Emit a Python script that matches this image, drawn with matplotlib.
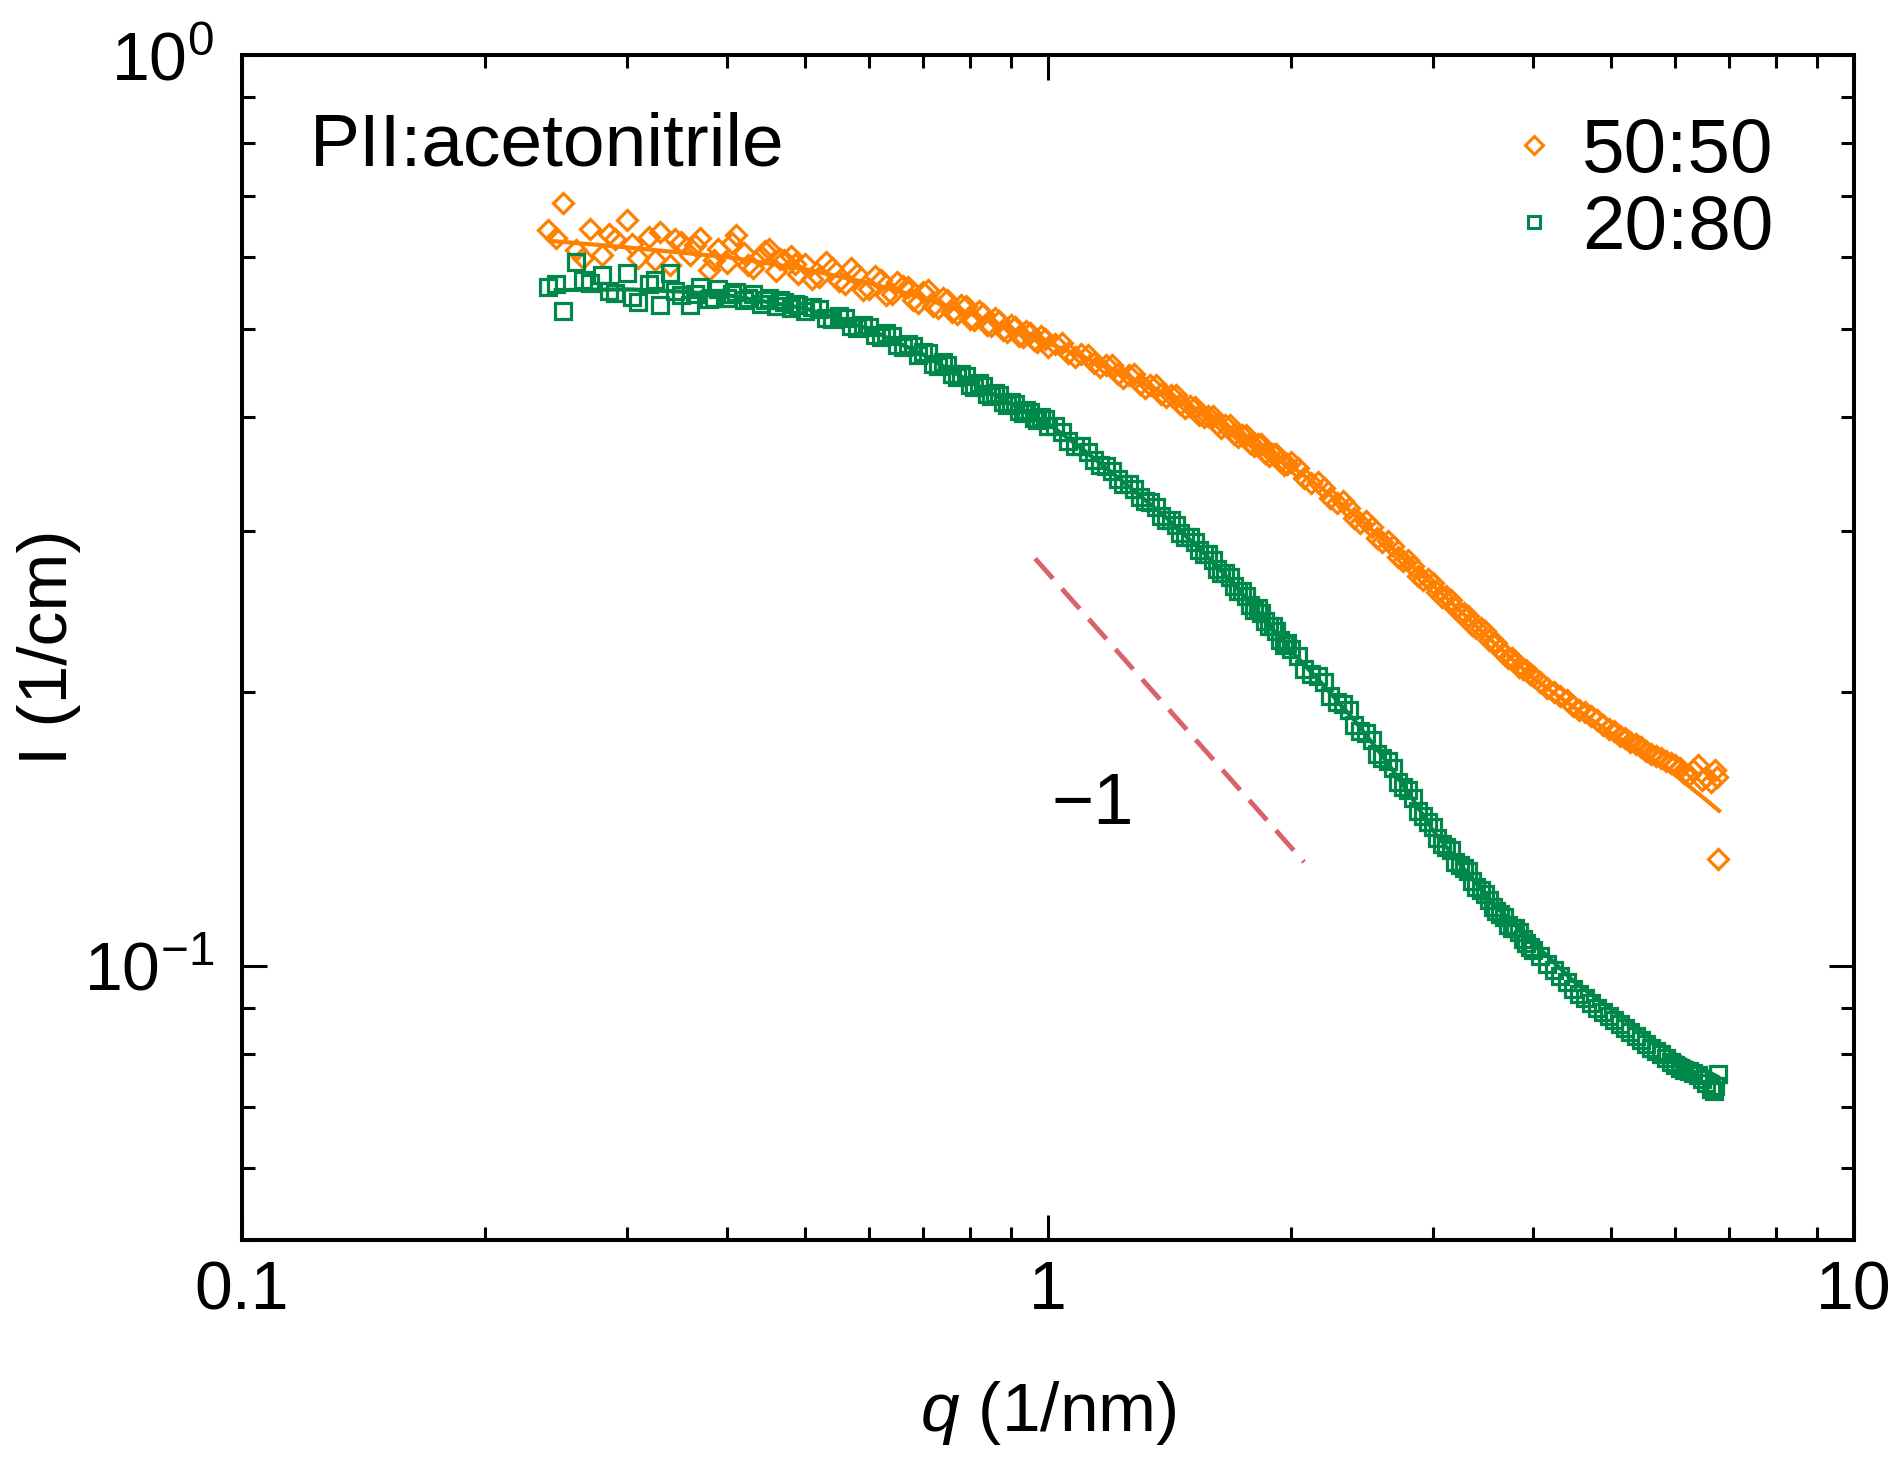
import matplotlib
matplotlib.use("Agg")
import matplotlib.pyplot as plt
from matplotlib.ticker import LogLocator, NullFormatter, LogFormatterSciNotation
from matplotlib.lines import Line2D

plt.rcParams['font.family'] = ['Liberation Sans', 'DejaVu Sans']
plt.rcParams['mathtext.fontset'] = 'custom'
plt.rcParams['mathtext.rm'] = 'Liberation Sans'
plt.rcParams['mathtext.it'] = 'Liberation Sans:italic'
plt.rcParams['axes.unicode_minus'] = False

# --- data ---
q_5050 = [0.24, 0.25, 0.26, 0.27, 0.28, 0.29, 0.30, 0.31, 0.32, 0.33, 0.34, 0.35, 0.36,
          0.37, 0.38, 0.39, 0.40, 0.41, 0.42, 0.43, 0.44, 0.45, 0.46, 0.47, 0.48, 0.49,
          0.50, 0.52, 0.54, 0.56, 0.58, 0.60, 0.62, 0.64, 0.66, 0.68, 0.70, 0.72, 0.74,
          0.76, 0.78, 0.80, 0.82, 0.84, 0.86, 0.88, 0.90, 0.92, 0.94, 0.96, 0.98,
          1.00, 1.04, 1.08, 1.12, 1.16, 1.20, 1.24, 1.28, 1.32, 1.36, 1.40, 1.44, 1.48,
          1.52, 1.56, 1.60, 1.64, 1.68, 1.72, 1.76, 1.80, 1.84, 1.88, 1.92, 1.96,
          2.00, 2.08, 2.16, 2.24, 2.32, 2.40, 2.48, 2.56, 2.64, 2.72, 2.80, 2.88, 2.96,
          3.04, 3.12, 3.20, 3.28, 3.36, 3.44, 3.52, 3.60, 3.68, 3.76, 3.84, 3.92,
          4.00, 4.16, 4.32, 4.48, 4.64, 4.80, 4.96, 5.12, 5.28, 5.44, 5.60, 5.76, 5.92,
          6.08, 6.24, 6.40, 6.56, 6.64, 6.72, 6.76, 6.78]
I_5050 = [0.642, 0.688, 0.611, 0.645, 0.603, 0.628, 0.659, 0.598, 0.631, 0.640, 0.588, 0.624, 0.603,
          0.630, 0.581, 0.612, 0.591, 0.635, 0.607, 0.584, 0.601, 0.612, 0.579, 0.596, 0.601, 0.575,
          0.590, 0.571, 0.584, 0.560, 0.575, 0.553, 0.566, 0.547, 0.558, 0.538, 0.549, 0.530, 0.541,
          0.522, 0.531, 0.513, 0.523, 0.506, 0.514, 0.499, 0.506, 0.491, 0.498, 0.486, 0.491,
          0.478, 0.483, 0.466, 0.469, 0.455, 0.457, 0.442, 0.446, 0.431, 0.434, 0.421, 0.423, 0.410,
          0.411, 0.400, 0.402, 0.390, 0.392, 0.381, 0.383, 0.372, 0.374, 0.363, 0.365, 0.355,
          0.357, 0.343, 0.340, 0.326, 0.324, 0.310, 0.308, 0.295, 0.293, 0.281, 0.279, 0.268, 0.266,
          0.257, 0.255, 0.247, 0.244, 0.237, 0.235, 0.228, 0.226, 0.220, 0.218, 0.213, 0.211,
          0.208, 0.202, 0.198, 0.193, 0.190, 0.186, 0.182, 0.179, 0.176, 0.174, 0.171, 0.169, 0.167,
          0.165, 0.162, 0.166, 0.161, 0.159, 0.164, 0.161, 0.131]
# in-between points of the same 50:50 run
q_5050_mid = [0.245, 0.265, 0.285, 0.305, 0.325, 0.345, 0.365, 0.385, 0.405, 0.425, 0.445, 0.465, 0.485,
              0.51, 0.53, 0.55, 0.57, 0.59, 0.61, 0.63, 0.65, 0.67, 0.69, 0.71, 0.73, 0.75,
              0.77, 0.79, 0.81, 0.83, 0.85, 0.87, 0.89, 0.91, 0.93, 0.95, 0.97, 0.99,
              1.02, 1.06, 1.10, 1.14, 1.18, 1.22, 1.26, 1.30, 1.34, 1.38, 1.42, 1.46, 1.50,
              1.54, 1.58, 1.62, 1.66, 1.70, 1.74, 1.78, 1.82, 1.86, 1.90, 1.94, 1.98,
              2.04, 2.12, 2.20, 2.28, 2.36, 2.44, 2.52, 2.60, 2.68, 2.76, 2.84, 2.92, 3.00,
              3.08, 3.16, 3.24, 3.32, 3.40, 3.48, 3.56, 3.64, 3.72, 3.80, 3.88, 3.96,
              4.08, 4.24, 4.40, 4.56, 4.72, 4.88, 5.04, 5.20, 5.36, 5.52, 5.68, 5.84, 6.00,
              6.16, 6.32, 6.48]
I_5050_mid = [0.629, 0.598, 0.636, 0.620, 0.596, 0.628, 0.618, 0.596, 0.622, 0.588, 0.609, 0.597, 0.590,
              0.567, 0.592, 0.565, 0.583, 0.552, 0.572, 0.545, 0.563, 0.556, 0.534, 0.552, 0.527, 0.538,
              0.519, 0.530, 0.512, 0.520, 0.504, 0.511, 0.497, 0.503, 0.490, 0.495, 0.484, 0.488,
              0.482, 0.471, 0.470, 0.459, 0.457, 0.446, 0.445, 0.435, 0.434, 0.424, 0.423, 0.414, 0.412,
              0.403, 0.402, 0.393, 0.392, 0.384, 0.383, 0.375, 0.374, 0.366, 0.365, 0.358, 0.356,
              0.352, 0.339, 0.335, 0.322, 0.318, 0.306, 0.303, 0.292, 0.289, 0.278, 0.275, 0.265, 0.263,
              0.254, 0.252, 0.244, 0.242, 0.235, 0.233, 0.226, 0.223, 0.218, 0.216, 0.212, 0.209,
              0.205, 0.200, 0.196, 0.191, 0.188, 0.184, 0.181, 0.178, 0.175, 0.172, 0.170, 0.168, 0.166,
              0.163, 0.164, 0.160]

q_2080 = [0.24, 0.25, 0.26, 0.27, 0.28, 0.29, 0.30, 0.31, 0.32, 0.33, 0.34, 0.35, 0.36,
          0.37, 0.38, 0.39, 0.40, 0.41, 0.42, 0.43, 0.44, 0.45, 0.46, 0.47, 0.48, 0.49,
          0.50, 0.52, 0.54, 0.56, 0.58, 0.60, 0.62, 0.64, 0.66, 0.68, 0.70, 0.72, 0.74,
          0.76, 0.78, 0.80, 0.82, 0.84, 0.86, 0.88, 0.90, 0.92, 0.94, 0.96, 0.98,
          1.00, 1.04, 1.08, 1.12, 1.16, 1.20, 1.24, 1.28, 1.32, 1.36, 1.40, 1.44, 1.48,
          1.52, 1.56, 1.60, 1.64, 1.68, 1.72, 1.76, 1.80, 1.84, 1.88, 1.92, 1.96,
          2.00, 2.08, 2.16, 2.24, 2.32, 2.40, 2.48, 2.56, 2.64, 2.72, 2.80, 2.88, 2.96,
          3.04, 3.12, 3.20, 3.28, 3.36, 3.44, 3.52, 3.60, 3.68, 3.76, 3.84, 3.92,
          4.00, 4.16, 4.32, 4.48, 4.64, 4.80, 4.96, 5.12, 5.28, 5.44, 5.60, 5.76, 5.92,
          6.08, 6.24, 6.40, 6.56, 6.64, 6.70, 6.72, 6.78]
I_2080 = [0.556, 0.523, 0.593, 0.562, 0.574, 0.548, 0.576, 0.536, 0.561, 0.532, 0.576, 0.545, 0.531,
          0.556, 0.540, 0.553, 0.541, 0.550, 0.538, 0.546, 0.533, 0.541, 0.530, 0.536, 0.527, 0.532,
          0.524, 0.526, 0.513, 0.514, 0.502, 0.503, 0.490, 0.491, 0.478, 0.479, 0.472, 0.458, 0.460,
          0.446, 0.447, 0.434, 0.436, 0.425, 0.426, 0.416, 0.416, 0.407, 0.408, 0.399, 0.400,
          0.391, 0.386, 0.372, 0.367, 0.355, 0.349, 0.338, 0.334, 0.324, 0.319, 0.309, 0.305, 0.296,
          0.292, 0.283, 0.279, 0.270, 0.267, 0.258, 0.255, 0.246, 0.244, 0.236, 0.233, 0.225,
          0.223, 0.212, 0.208, 0.198, 0.194, 0.184, 0.180, 0.171, 0.168, 0.159, 0.156, 0.148, 0.144,
          0.138, 0.135, 0.130, 0.128, 0.124, 0.121, 0.118, 0.115, 0.113, 0.110, 0.109, 0.106,
          0.1040, 0.1005, 0.0975, 0.0944, 0.0921, 0.0899, 0.0880, 0.0863, 0.0846, 0.0829, 0.0812, 0.0800, 0.0785,
          0.0772, 0.0766, 0.0758, 0.0744, 0.0732, 0.0728, 0.0738, 0.0760]
# in-between points of the same 20:80 run
q_2080_mid = [0.245, 0.265, 0.285, 0.305, 0.325, 0.345, 0.365, 0.385, 0.405, 0.425, 0.445, 0.465, 0.485,
              0.51, 0.53, 0.55, 0.57, 0.59, 0.61, 0.63, 0.65, 0.67, 0.69, 0.71, 0.73, 0.75,
              0.77, 0.79, 0.81, 0.83, 0.85, 0.87, 0.89, 0.91, 0.93, 0.95, 0.97, 0.99,
              1.02, 1.06, 1.10, 1.14, 1.18, 1.22, 1.26, 1.30, 1.34, 1.38, 1.42, 1.46, 1.50,
              1.54, 1.58, 1.62, 1.66, 1.70, 1.74, 1.78, 1.82, 1.86, 1.90, 1.94, 1.98,
              2.04, 2.12, 2.20, 2.28, 2.36, 2.44, 2.52, 2.60, 2.68, 2.76, 2.84, 2.92, 3.00,
              3.08, 3.16, 3.24, 3.32, 3.40, 3.48, 3.56, 3.64, 3.72, 3.80, 3.88, 3.96,
              4.08, 4.24, 4.40, 4.56, 4.72, 4.88, 5.04, 5.20, 5.36, 5.52, 5.68, 5.84, 6.00,
              6.16, 6.32, 6.48]
I_2080_mid = [0.561, 0.566, 0.551, 0.543, 0.566, 0.551, 0.546, 0.541, 0.546, 0.541, 0.539, 0.538, 0.533,
              0.529, 0.515, 0.517, 0.504, 0.506, 0.493, 0.495, 0.480, 0.482, 0.468, 0.471, 0.456, 0.457,
              0.443, 0.444, 0.432, 0.433, 0.422, 0.423, 0.413, 0.414, 0.405, 0.406, 0.397, 0.398,
              0.391, 0.377, 0.372, 0.359, 0.354, 0.342, 0.338, 0.327, 0.323, 0.312, 0.309, 0.299, 0.296,
              0.286, 0.283, 0.273, 0.270, 0.261, 0.258, 0.249, 0.247, 0.239, 0.236, 0.228, 0.226,
              0.219, 0.209, 0.205, 0.195, 0.191, 0.181, 0.177, 0.169, 0.165, 0.157, 0.153, 0.146, 0.142,
              0.136, 0.134, 0.129, 0.127, 0.122, 0.120, 0.116, 0.114, 0.111, 0.110, 0.107, 0.105,
              0.1024, 0.0990, 0.0960, 0.0932, 0.0910, 0.0890, 0.0871, 0.0854, 0.0837, 0.0820, 0.0806, 0.0792, 0.0779,
              0.0769, 0.0762, 0.0751]

# fitted curves
qfit_5050 = [0.242, 0.30, 0.40, 0.50, 0.60, 0.70, 0.80, 0.90, 1.00, 1.20, 1.40, 1.60, 1.80,
             2.00, 2.20, 2.40, 2.60, 2.80, 3.00, 3.30, 3.60, 4.00, 4.50, 5.00, 5.50, 6.00, 6.50, 6.80]
Ifit_5050 = [0.625, 0.615, 0.600, 0.582, 0.562, 0.541, 0.520, 0.500, 0.483, 0.452, 0.424, 0.398, 0.375,
             0.354, 0.333, 0.313, 0.294, 0.277, 0.262, 0.242, 0.225, 0.207, 0.192, 0.180, 0.171, 0.162, 0.153, 0.148]
qfit_2080 = [0.245, 0.30, 0.35, 0.40, 0.50, 0.60, 0.70, 0.80, 0.90, 1.00, 1.10, 1.20, 1.40, 1.60, 1.80,
             2.00, 2.20, 2.40, 2.60, 2.80, 3.00, 3.30, 3.60, 4.00, 4.50, 5.00, 5.50, 6.00, 6.50, 6.78]
Ifit_2080 = [0.552, 0.553, 0.550, 0.545, 0.527, 0.500, 0.469, 0.438, 0.414, 0.394, 0.370, 0.348, 0.311, 0.278, 0.248,
             0.222, 0.203, 0.186, 0.170, 0.155, 0.141, 0.127, 0.116, 0.106, 0.096, 0.0895, 0.084, 0.080, 0.077, 0.0755]

# slope -1 guide line
q_guide = [0.964, 2.078]
I_guide = [0.280, 0.130]

labels = ["50:50", "20:80"]
x_ticks = [0.1, 1, 10]
x_tick_labels = ["0.1", "1", "10"]

c_orange = '#ff8000'
c_green = '#00874a'
c_guide = '#d9636b'

fig = plt.figure(figsize=(19.01, 14.68), dpi=100)
ax = fig.add_axes([0.1273, 0.1553, 0.848, 0.8072])

ax.plot(q_5050 + q_5050_mid, I_5050 + I_5050_mid, linestyle='none', marker='D', ms=10.5,
        mfc='none', mec=c_orange, mew=2.3)
ax.plot(q_2080 + q_2080_mid, I_2080 + I_2080_mid, linestyle='none', marker='s', ms=11,
        mfc='none', mec=c_green, mew=2.3)
ax.plot(qfit_5050, Ifit_5050, color=c_orange, lw=3)
ax.plot(qfit_2080, Ifit_2080, color=c_green, lw=3)
ax.plot(q_guide, I_guide, color=c_guide, lw=3.5, dashes=(5.5, 2.8))

ax.set_xscale('log')
ax.set_yscale('log')
ax.set_xlim(0.1, 10)
ax.set_ylim(0.05, 1)

ax.set_xticks(x_ticks)
ax.set_xticklabels(x_tick_labels)
ax.xaxis.set_minor_locator(LogLocator(base=10, subs=range(2, 10)))
ax.xaxis.set_minor_formatter(NullFormatter())
ax.yaxis.set_major_locator(LogLocator(base=10))
ax.yaxis.set_major_formatter(LogFormatterSciNotation())
ax.yaxis.set_minor_locator(LogLocator(base=10, subs=range(2, 10)))
ax.yaxis.set_minor_formatter(NullFormatter())

ax.tick_params(which='both', direction='in', top=True, right=True, width=2.2)
ax.tick_params(which='major', length=18)
ax.tick_params(which='minor', length=9.5)
ax.tick_params(axis='x', which='major', labelsize=49, pad=14)
ax.tick_params(axis='y', which='major', labelsize=49, pad=20)
for s in ax.spines.values():
    s.set_linewidth(2.9)

ax.set_xlabel(r"$q$ (1/nm)", fontsize=50, labelpad=40)
ax.set_ylabel("I (1/cm)", fontsize=50)
ax.yaxis.set_label_coords(-0.100, 0.5)

ax.text(0.042, 0.907, "PII:acetonitrile", transform=ax.transAxes, fontsize=54,
        ha='left', va='baseline')
ax.text(1.137, 0.150, "\u22121", fontsize=52, ha='center', va='center')

handles = [Line2D([], [], linestyle='none', marker='D', ms=9.5, mfc='none', mec=c_orange, mew=2.2),
           Line2D([], [], linestyle='none', marker='s', ms=8.5, mfc='none', mec=c_green, mew=2.2)]
ax.legend(handles, labels, loc='upper left', bbox_to_anchor=(0.787, 0.948),
          frameon=False, fontsize=55, handlelength=0.6, handletextpad=0.33,
          labelspacing=0.08, borderpad=0, borderaxespad=0)

fig.savefig("out.png", dpi=100)
